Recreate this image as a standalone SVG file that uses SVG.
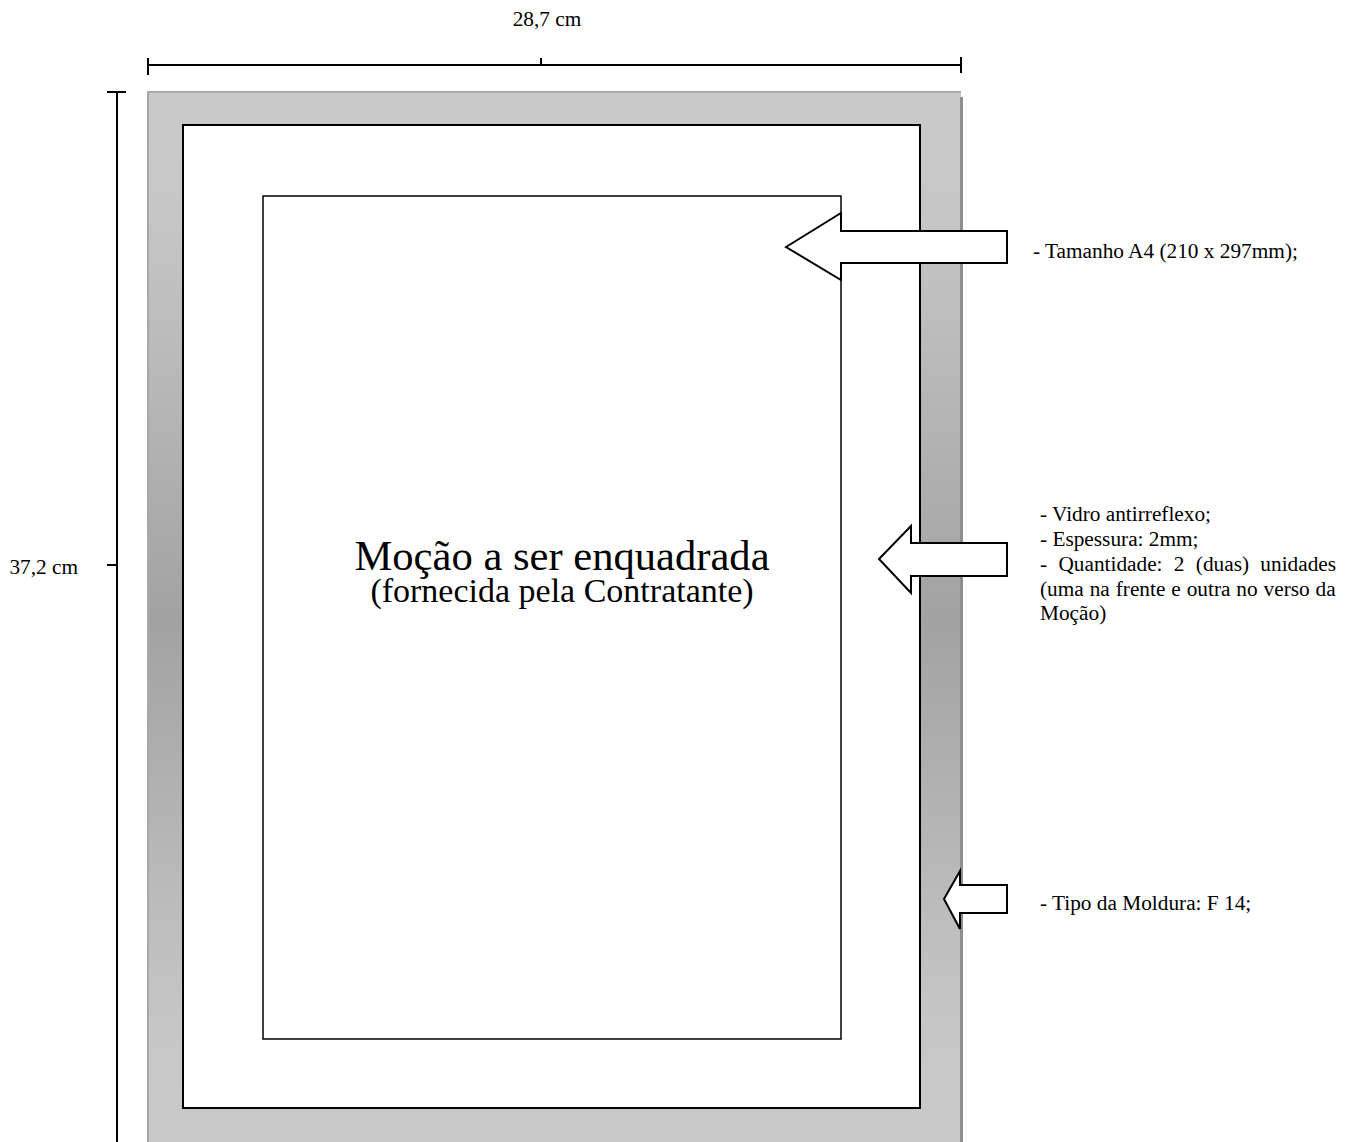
<svg xmlns="http://www.w3.org/2000/svg" width="1348" height="1142" viewBox="0 0 1348 1142">
<defs>
<linearGradient id="fg" x1="0" y1="91" x2="0" y2="1150" gradientUnits="userSpaceOnUse">
<stop offset="0" stop-color="#cacaca"/>
<stop offset="0.12" stop-color="#c6c6c6"/>
<stop offset="0.5" stop-color="#a2a2a2"/>
<stop offset="0.88" stop-color="#c6c6c6"/>
<stop offset="1" stop-color="#cacaca"/>
</linearGradient>
<style>
.t{font-family:"Liberation Serif","Times New Roman",serif;fill:#000}
.s{font-size:21.3px}
.ln{stroke:#000;stroke-width:2;fill:none}
.ar{fill:#fff;stroke:#000;stroke-width:2;stroke-linejoin:miter}
</style>
</defs>
<rect width="1348" height="1142" fill="#fff"/>
<g id="frame">
<rect x="147" y="91" width="814" height="1060" fill="url(#fg)"/>
<rect x="147" y="91" width="814" height="2" fill="#a8a8a8"/>
<rect x="147" y="91" width="2" height="1060" fill="#a8a8a8"/>
<rect x="960" y="97" width="3" height="1050" fill="#8e8e8e"/>
</g>
<g id="inner-frame">
<rect x="183" y="125" width="737" height="983" fill="#fff" stroke="#000" stroke-width="2"/>
</g>
<g id="mocao">
<rect x="263" y="196" width="578" height="843" fill="#fff" stroke="#000" stroke-width="1.5"/>
<text class="t" x="562" y="570" font-size="42.6" text-anchor="middle">Moção a ser enquadrada</text>
<text class="t" x="562" y="602" font-size="34" text-anchor="middle">(fornecida pela Contratante)</text>
</g>
<g id="connectors">
<path class="ar" d="M786,247 L841,213 L841,231 L1007,231 L1007,263 L841,263 L841,280 Z"/>
<path class="ar" d="M879,559 L911,526 L911,543 L1007,543 L1007,576 L911,576 L911,593 Z"/>
<path class="ar" d="M944,899 L960,871 L960,885 L1007,885 L1007,913 L960,913 L960,929 Z"/>
</g>
<g id="dim-width">
<line class="ln" x1="147" y1="65" x2="961" y2="65"/>
<line class="ln" x1="148" y1="58" x2="148" y2="75"/>
<line class="ln" x1="961" y1="57" x2="961" y2="73"/>
<line class="ln" x1="541" y1="58" x2="541" y2="65"/>
<text class="t s" x="547" y="26" text-anchor="middle">28,7 cm</text>
</g>
<g id="dim-height">
<line class="ln" x1="117" y1="91" x2="117" y2="1142"/>
<line class="ln" x1="107" y1="92" x2="126" y2="92"/>
<line class="ln" x1="107" y1="565" x2="117" y2="565"/>
<text class="t s" x="78" y="574" text-anchor="end">37,2 cm</text>
</g>
<g id="label-a4">
<text class="t s" x="1033" y="258">- Tamanho A4 (210 x 297mm);</text>
</g>
<g id="label-vidro">
<text class="t s" x="1040" y="521">- Vidro antirreflexo;</text>
<text class="t s" x="1040" y="546">- Espessura: 2mm;</text>
<text class="t s" x="1040" y="571" word-spacing="6">- Quantidade: 2 (duas) unidades</text>
<text class="t s" x="1040" y="596" word-spacing="0.6">(uma na frente e outra no verso da</text>
<text class="t s" x="1040" y="620">Moção)</text>
</g>
<g id="label-moldura">
<text class="t s" x="1040" y="910">- Tipo da Moldura: F 14;</text>
</g>
</svg>
